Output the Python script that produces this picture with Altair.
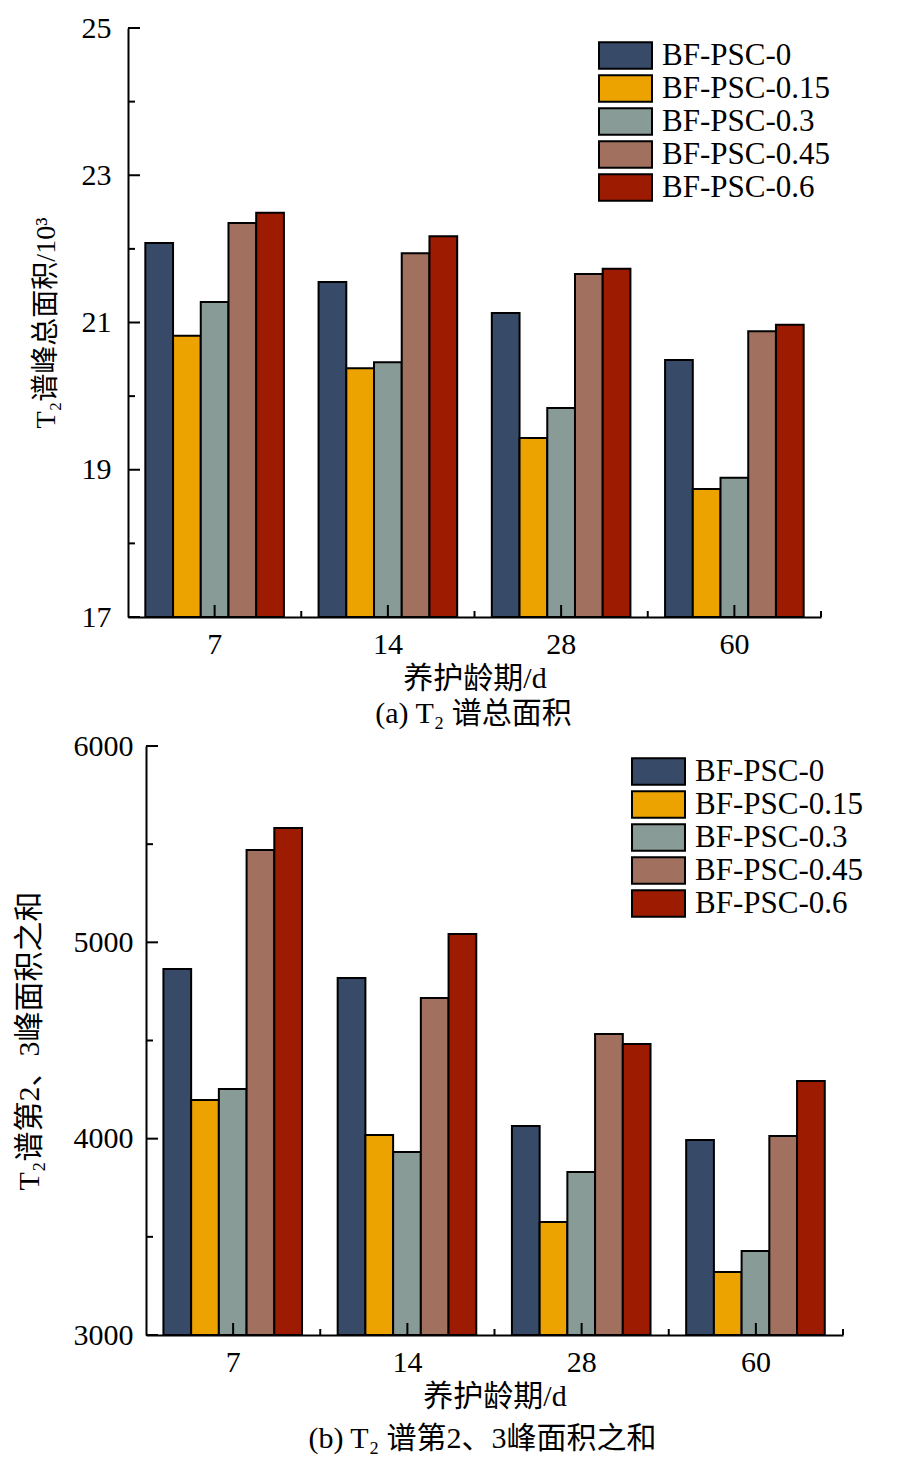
import altair as alt
import pandas as pd

ages = ["7", "14", "28", "60"]
series = ["BF-PSC-0", "BF-PSC-0.15", "BF-PSC-0.3", "BF-PSC-0.45", "BF-PSC-0.6"]
colors = ["#374a68", "#eca300", "#889b97", "#a1705e", "#9d1b00"]

# (a) T2 spectrum total peak area (/10^3)
a_psc0 = [22.08, 21.55, 21.13, 20.49]
a_psc015 = [20.82, 20.38, 19.43, 18.74]
a_psc03 = [21.28, 20.46, 19.84, 18.89]
a_psc045 = [22.35, 21.94, 21.66, 20.88]
a_psc06 = [22.49, 22.17, 21.73, 20.97]

# (b) sum of 2nd and 3rd peak areas
b_psc0 = [4864, 4818, 4065, 3993]
b_psc015 = [4197, 4019, 3576, 3321]
b_psc03 = [4253, 3932, 3830, 3428]
b_psc045 = [5470, 4716, 4533, 4014]
b_psc06 = [5582, 5042, 4482, 4294]

a_major = [17, 19, 21, 23, 25]
a_minor = [18, 20, 22, 24]
b_major = [3000, 4000, 5000, 6000]
b_minor = [3500, 4500, 5500]

LAT = "Liberation Serif"
MIX = "Liberation Serif, Noto Sans CJK SC"


def panel(vals, major, minor, ytitle, caption, W, H, shift, lab_pad, tit_pad,
          ext, leg_x, leg_y, ytfs, cap_dx, cap_off):
    rows = [{"age": a, "series": s, "value": v}
            for s, arr in zip(series, vals) for a, v in zip(ages, arr)]
    df = pd.DataFrame(rows)
    x0 = -shift
    yscale = alt.Scale(domain=[major[0], major[-1]], nice=False, zero=False)
    yaxis = alt.Axis(title=ytitle, values=major, format="d", offset=shift,
                     ticks=False, grid=False, domainColor="black",
                     domainWidth=2, labelFont=LAT, labelFontSize=30,
                     labelColor="black", labelPadding=lab_pad,
                     titleFont=MIX, titleFontSize=ytfs,
                     titleFontWeight="normal", titleColor="black",
                     titlePadding=tit_pad)
    bars = alt.Chart(df).mark_bar(stroke="black", strokeWidth=2).encode(
        x=alt.X("age:N", sort=ages,
                scale=alt.Scale(paddingInner=0.2, paddingOuter=0.1,
                                range=[x0, W]),
                axis=alt.Axis(title="养护龄期/d", labelAngle=0, ticks=False,
                              grid=False, domainColor="black", domainWidth=2,
                              labelFont=LAT, labelFontSize=30,
                              labelColor="black", labelPadding=12,
                              titleFont=MIX, titleFontSize=30,
                              titleFontWeight="normal", titleColor="black",
                              titlePadding=4)),
        xOffset=alt.XOffset("series:N", sort=series,
                            scale=alt.Scale(paddingInner=0, paddingOuter=0)),
        y=alt.Y("value:Q", scale=yscale, axis=yaxis),
        y2=alt.datum(major[0]),
        color=alt.Color("series:N", sort=series,
                        scale=alt.Scale(domain=series, range=colors),
                        legend=alt.Legend(title=None, orient="none",
                                          legendX=leg_x, legendY=leg_y,
                                          symbolType="M-2,-1H2V1H-2Z",
                                          symbolSize=702,
                                          symbolOffset=11,
                                          symbolStrokeColor="black",
                                          symbolStrokeWidth=2,
                                          symbolOpacity=1,
                                          labelFont=LAT, labelFontSize=31,
                                          labelColor="black", labelOffset=21,
                                          rowPadding=-9, padding=0,
                                          labelLimit=0)),
    )
    ymaj = alt.Chart(pd.DataFrame({"value": major})).mark_rule(
        color="black", strokeWidth=2).encode(
        y=alt.Y("value:Q", scale=yscale, axis=yaxis),
        x=alt.value(x0), x2=alt.value(x0 + 12))
    ymin = alt.Chart(pd.DataFrame({"value": minor})).mark_rule(
        color="black", strokeWidth=2).encode(
        y=alt.Y("value:Q", scale=yscale, axis=yaxis),
        x=alt.value(x0), x2=alt.value(x0 + 7))
    n = len(ages)
    xscale = alt.Scale(domain=[0, n], nice=False, zero=False, range=[x0, W])
    xmaj = alt.Chart(pd.DataFrame({"p": [i + 0.5 for i in range(n)]})).mark_rule(
        color="black", strokeWidth=2).encode(
        x=alt.X("p:Q", scale=xscale, axis=None),
        y=alt.value(H), y2=alt.value(H - 12))
    xmin = alt.Chart(pd.DataFrame({"p": [i + 1 for i in range(n)]})).mark_rule(
        color="black", strokeWidth=2).encode(
        x=alt.X("p:Q", scale=xscale, axis=None),
        y=alt.value(H), y2=alt.value(H - 6))
    ghost = alt.Chart(pd.DataFrame({"g": [0]})).mark_rule(opacity=0).encode(
        x=alt.value(-ext), y=alt.value(0), y2=alt.value(1))
    return alt.layer(bars, ymaj, ymin, xmaj, xmin, ghost).resolve_scale(
        x="independent").properties(
        width=W, height=H,
        title=alt.TitleParams(caption, orient="bottom", frame="group",
                              anchor="middle", font=MIX, fontSize=30,
                              fontWeight="normal", color="black",
                              offset=cap_off, dx=cap_dx))


top = panel([a_psc0, a_psc015, a_psc03, a_psc045, a_psc06], a_major, a_minor,
            "T₂谱峰总面积/10³", "(a) T₂ 谱总面积", 675, 589, 18,
            17, 21, 60, 453, 12, 28, -10, 6)
bottom = panel([b_psc0, b_psc015, b_psc03, b_psc045, b_psc06], b_major, b_minor,
               "T₂谱第2、3峰面积之和", "(b) T₂ 谱第2、3峰面积之和", 697, 589, 0,
               13, 29, 131, 486, 10, 30, -12, 13)

chart = alt.vconcat(top, bottom, spacing=2).resolve_scale(
    color="independent").properties(
    padding={"left": 6, "top": 5, "right": 5, "bottom": 5},
    background="white").configure_view(stroke=None)

chart.save("out.html", embed_options={"renderer": "svg", "actions": False})
